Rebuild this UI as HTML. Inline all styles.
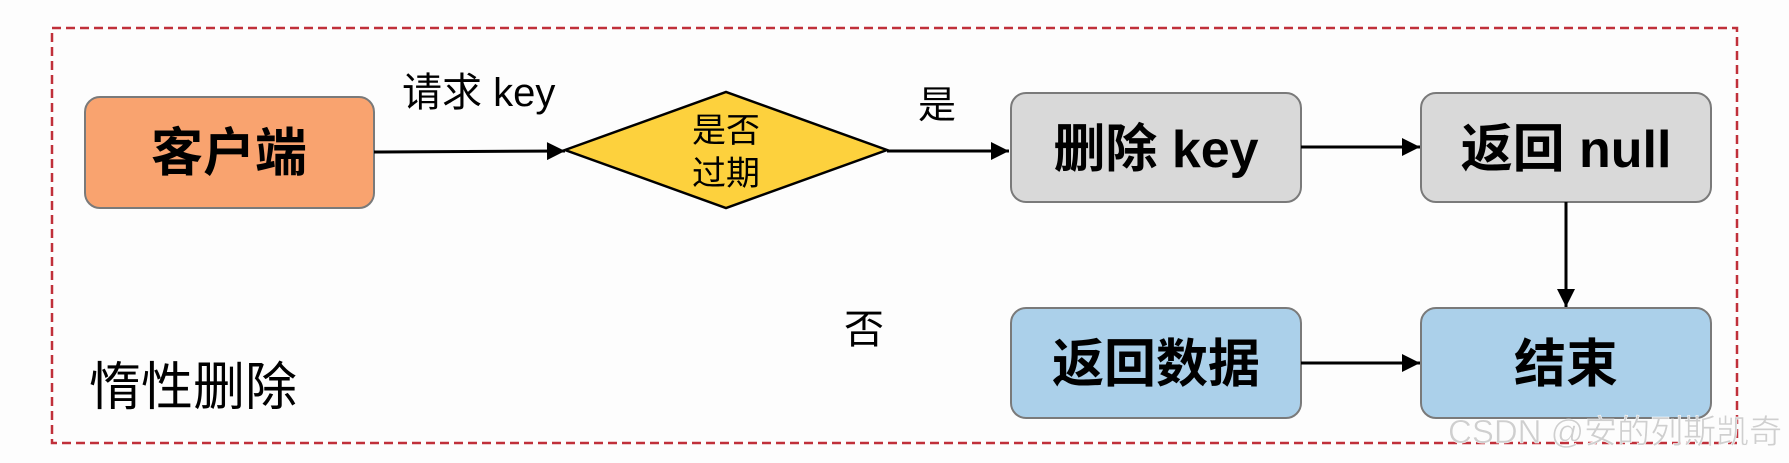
<!DOCTYPE html>
<html><head><meta charset="utf-8"><style>
html,body{margin:0;padding:0;background:#fdfdfd;}
svg{display:block;}
text{font-family:"Liberation Sans","Noto Sans CJK SC",sans-serif;}
</style></head><body>
<svg width="1789" height="463" viewBox="0 0 1789 463" xmlns="http://www.w3.org/2000/svg">
<defs>
<marker id="b" viewBox="0 0 10 10" markerWidth="20" markerHeight="18" refX="10" refY="5" orient="auto" markerUnits="userSpaceOnUse"><path d="M0,0 L10,5 L0,10 z" fill="#000"/></marker>
</defs>
<rect x="52" y="28" width="1685" height="415" fill="none" stroke="#c0303a" stroke-width="2.5" stroke-dasharray="9,5"/>
<rect x="85" y="97" width="289" height="111" rx="15" fill="#f9a36f" stroke="#7a7a7a" stroke-width="2"/>
<text x="229" y="171" font-size="52" font-weight="bold" text-anchor="middle">客户端</text>
<text x="402" y="106" font-size="40">请求 key</text>
<line x1="374" y1="152" x2="565" y2="151" stroke="#000" stroke-width="3" marker-end="url(#b)"/>
<polygon points="565,150 726,92 887,150 726,208" fill="#fdd13d" stroke="#000" stroke-width="2.5"/>
<text x="726" y="142" font-size="34" text-anchor="middle">是否</text>
<text x="726" y="185" font-size="34" text-anchor="middle">过期</text>
<text x="918" y="118" font-size="38">是</text>
<line x1="887" y1="151" x2="1009" y2="151" stroke="#000" stroke-width="3" marker-end="url(#b)"/>
<rect x="1011" y="93" width="290" height="109" rx="15" fill="#d9d9d9" stroke="#7a7a7a" stroke-width="2"/>
<text x="1156" y="167" font-size="52" font-weight="bold" text-anchor="middle">删除 key</text>
<line x1="1301" y1="147" x2="1420" y2="147" stroke="#000" stroke-width="3" marker-end="url(#b)"/>
<rect x="1421" y="93" width="290" height="109" rx="15" fill="#d9d9d9" stroke="#7a7a7a" stroke-width="2"/>
<text x="1566" y="167" font-size="52" font-weight="bold" text-anchor="middle">返回 null</text>
<line x1="1566" y1="202" x2="1566" y2="307" stroke="#000" stroke-width="3" marker-end="url(#b)"/>
<rect x="1011" y="308" width="290" height="110" rx="15" fill="#abd0ea" stroke="#7a7a7a" stroke-width="2"/>
<text x="1156" y="382" font-size="52" font-weight="bold" text-anchor="middle">返回数据</text>
<line x1="1301" y1="363" x2="1420" y2="363" stroke="#000" stroke-width="3" marker-end="url(#b)"/>
<rect x="1421" y="308" width="290" height="110" rx="15" fill="#abd0ea" stroke="#7a7a7a" stroke-width="2"/>
<text x="1566" y="382" font-size="52" font-weight="bold" text-anchor="middle">结束</text>
<text x="844" y="343" font-size="40">否</text>
<text x="89" y="405" font-size="52">惰性删除</text>
<text x="1448" y="443" font-size="33" fill="#cfcfcf" stroke="#ffffff" stroke-width="0.5">CSDN @安的列斯凯奇</text>
</svg>
</body></html>
